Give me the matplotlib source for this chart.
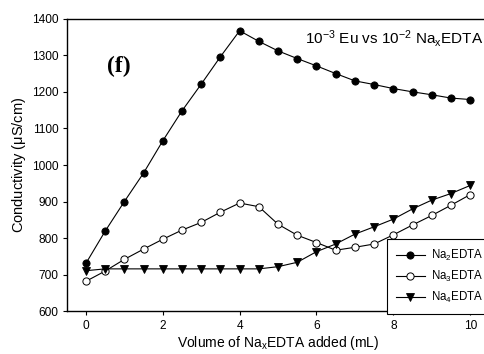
import matplotlib
matplotlib.use("Agg")
import matplotlib.pyplot as plt

plt.rcParams['font.family'] = ['Liberation Sans', 'DejaVu Sans']
plt.rcParams['mathtext.fontset'] = 'custom'
plt.rcParams['mathtext.rm'] = 'Liberation Sans'
plt.rcParams['mathtext.it'] = 'Liberation Sans:italic'
plt.rcParams['mathtext.bf'] = 'Liberation Sans:bold'

volume = [0, 0.5, 1, 1.5, 2, 2.5, 3, 3.5, 4, 4.5, 5, 5.5, 6, 6.5, 7, 7.5, 8, 8.5, 9, 9.5, 10]
na2edta = [731, 819, 900, 978, 1066, 1148, 1221, 1296, 1367, 1338, 1312, 1291, 1271, 1250, 1230, 1220, 1209, 1200, 1192, 1183, 1179]
na3edta = [682, 710, 742, 770, 797, 822, 843, 871, 896, 886, 838, 808, 788, 767, 775, 784, 809, 836, 862, 890, 919]
na4edta = [711, 716, 716, 716, 716, 716, 716, 716, 716, 716, 722, 734, 763, 784, 811, 831, 852, 880, 904, 922, 944]

labels = [r'Na$_2$EDTA', r'Na$_3$EDTA', r'Na$_4$EDTA']
xticks = [0, 2, 4, 6, 8, 10]
yticks = [600, 700, 800, 900, 1000, 1100, 1200, 1300, 1400]

W, H = 485, 354
fig = plt.figure(figsize=(W / 100, H / 100), dpi=100)
ax_left = 66.7 / W
ax_bottom = (H - 311.3) / H
ax_height = (311.3 - 18.7) / H
ax_width = 422.7 / W
ax = fig.add_axes([ax_left, ax_bottom, ax_width, ax_height])

lw = 0.8
ax.plot(volume, na2edta, '-', color='black', lw=lw, marker='o', ms=5.2,
        mfc='black', mec='black', mew=0.6, label=labels[0])
ax.plot(volume, na3edta, '-', color='black', lw=lw, marker='o', ms=5.2,
        mfc='white', mec='black', mew=0.7, label=labels[1])
ax.plot(volume, na4edta, '-', color='black', lw=lw, marker='v', ms=5.5,
        mfc='black', mec='black', mew=0.6, label=labels[2])

ax.set_xlim(-0.5, 10.5)
ax.set_ylim(600, 1400)
ax.set_xticks(xticks)
ax.set_yticks(yticks)
ax.tick_params(direction='out', length=3, width=0.8, labelsize=8.6, pad=3)
for s in ax.spines.values():
    s.set_linewidth(1.0)

ax.set_xlabel(r'Volume of Na$_\mathregular{x}$EDTA added (mL)', fontsize=10, labelpad=2)
ax.set_ylabel(r'Conductivity ($\mathregular{\mu}$S/cm)', fontsize=10.5, labelpad=3)

fig.text(107.5 / W, 1 - 66 / H, '(f)', fontsize=17, fontweight='bold',
         family='Liberation Serif', va='center', ha='left')
fig.text(305 / W, 1 - 38 / H, r'10$^{-3}$ Eu vs 10$^{-2}$ Na$_\mathregular{x}$EDTA',
         fontsize=11, va='center', ha='left')

leg = ax.legend(loc='upper left', bbox_to_anchor=(386.7 / W, 1 - 238.7 / H),
                bbox_transform=fig.transFigure, fontsize=8.3, frameon=True,
                fancybox=False, edgecolor='black', framealpha=1,
                handlelength=2.5, handletextpad=0.5, labelspacing=0.5,
                borderpad=0.8, borderaxespad=0)
leg.get_frame().set_linewidth(0.8)

fig.savefig('out.png', dpi=100)
